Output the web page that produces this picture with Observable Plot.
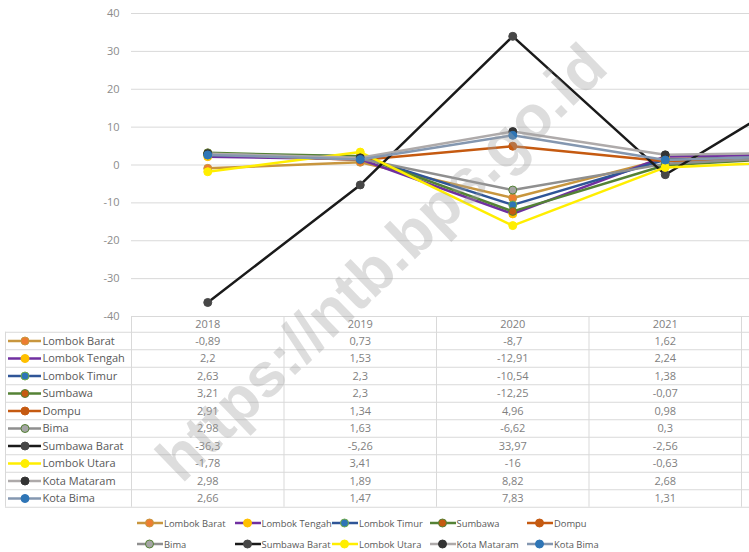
<!DOCTYPE html>
<html>
<head>
<meta charset="utf-8">
<script src="https://cdn.jsdelivr.net/npm/d3@7"></script>
<script src="https://cdn.jsdelivr.net/npm/@observablehq/plot@0.6"></script>
<style>
html, body { margin: 0; padding: 0; background: #fff; }
#wrap { position: relative; width: 749px; height: 552px; overflow: hidden; font-family: "Open Sans", sans-serif; }
#wrap svg.plot { position: absolute; left: 0; overflow: visible; max-width: none !important; }
.leg { position: absolute; height: 14px; display: flex; align-items: center; font-size: 9.4px; color: #595959; white-space: nowrap; }
.leg svg { display: block; margin-right: 1px; }
#wm { position: absolute; left: 381px; top: 262px; transform: translate(-50%, -50%) rotate(-44deg);
      font-family: "Liberation Sans", Arial, sans-serif; font-weight: bold; font-size: 62px;
      color: rgba(160,160,160,0.36); white-space: nowrap; pointer-events: none; }
</style>
</head>
<body>
<div id="wrap"></div>
<script>
// ---- data ----
const years = [2018, 2019, 2020, 2021, 2022];
const tableYears = [2018, 2019, 2020, 2021]; // columns visible in the cropped table
const regions = ["Lombok Barat", "Lombok Tengah", "Lombok Timur", "Sumbawa", "Dompu",
                 "Bima", "Sumbawa Barat", "Lombok Utara", "Kota Mataram", "Kota Bima"];
const lombokBarat  = [-0.89, 0.73, -8.7, 1.62, 2.1];
const lombokTengah = [2.2, 1.53, -12.91, 2.24, 2.9];
const lombokTimur  = [2.63, 2.3, -10.54, 1.38, 2.3];
const sumbawa      = [3.21, 2.3, -12.25, -0.07, 2.2];
const dompu        = [2.91, 1.34, 4.96, 0.98, 1.7];
const bima         = [2.98, 1.63, -6.62, 0.3, 2.4];
const sumbawaBarat = [-36.3, -5.26, 33.97, -2.56, 21.8];
const lombokUtara  = [-1.78, 3.41, -16, -0.63, 1.1];
const kotaMataram  = [2.98, 1.89, 8.82, 2.68, 3.3];
const kotaBima     = [2.66, 1.47, 7.83, 1.31, 2.5];
const yTicks = [-40, -30, -20, -10, 0, 10, 20, 30, 40];

const seriesValues = [lombokBarat, lombokTengah, lombokTimur, sumbawa, dompu,
                      bima, sumbawaBarat, lombokUtara, kotaMataram, kotaBima];

// ---- styles ----
const lineColor = ["#C8963E", "#7030A0", "#2F5597", "#548235", "#C55A11",
                   "#8F8F8F", "#1A1A1A", "#FFEE00", "#AEAAAA", "#8497B0"];
const dotFill   = ["#ED7D31", "#FFC000", "#2E75B6", "#C55A11", "#C55A11",
                   "#A5A5A5", "#474747", "#FFEE00", "#333333", "#2E75B6"];
const dotStroke = ["#C8963E", "#FFC000", "#70AD47", "#548235", "#C55A11",
                   "#548235", "#474747", "#FFEE00", "#333333", "#2E75B6"];

const rows = [];
regions.forEach((r, i) => years.forEach((y, j) => rows.push({region: r, idx: i, year: y, value: seriesValues[i][j]})));
const fmt = v => String(v).replace(".", ",");

// ---- layout ----
const W = 900, X0 = 131, COLW = 152.5;
const XR = X0 + COLW * years.length;
const xOpt = {type: "linear", domain: [years[0] - 0.5, years[years.length - 1] + 0.5], range: [X0, XR], axis: null};
const px2x = p => years[0] - 0.5 + (p - X0) / COLW;
const FONT = "'Open Sans', sans-serif";
const wrap = document.getElementById("wrap");

function place(svg, top, h) {
  svg.classList.add("plot");
  svg.style.top = top + "px";
  svg.style.maxWidth = "none";
  svg.style.width = W + "px";
  svg.style.height = h + "px";
  wrap.appendChild(svg);
}

// ---- chart ----
const chartMarks = [Plot.ruleY(yTicks, {stroke: "#d9d9d9", strokeWidth: 1})];
regions.forEach((r, i) => {
  const data = rows.filter(d => d.idx === i);
  chartMarks.push(Plot.line(data, {x: "year", y: "value", stroke: lineColor[i], strokeWidth: 2.5}));
  chartMarks.push(Plot.dot(data, {x: "year", y: "value", r: 4, fill: dotFill[i], stroke: dotStroke[i], strokeWidth: 1}));
});
const chart = Plot.plot({
  width: W, height: 318, marginTop: 13, marginBottom: 2, marginLeft: X0, marginRight: W - XR,
  x: xOpt,
  y: {domain: [-40, 40], ticks: yTicks, tickFormat: d => String(d), tickSize: 0, tickPadding: 12, label: null},
  style: {fontFamily: FONT, fontSize: "11px", color: "#8c8c8c", background: "transparent", overflow: "visible"},
  marks: chartMarks
});
place(chart, 0, 318);

// ---- data table ----
const n = regions.length, ROWH = 17.5, HEAD = 0.9;
const tH = ROWH * (n + HEAD);
const bounds = years.map(y => y - 0.5).concat([years[years.length - 1] + 0.5]);
const tableRows = rows.filter(d => tableYears.includes(d.year));
const tableMarks = [
  Plot.ruleY(d3.range(0, n + 1), {y: d => d, insetLeft: -(X0 - 5), stroke: "#d9d9d9", strokeWidth: 1}),
  Plot.ruleY([-HEAD], {y: d => d, stroke: "#d9d9d9", strokeWidth: 1}),
  Plot.ruleX(bounds, {x: d => d, y1: -HEAD, y2: n, stroke: "#d9d9d9", strokeWidth: 1}),
  Plot.ruleX([bounds[0]], {x: d => d, dx: -(X0 - 5), y1: 0, y2: n, stroke: "#d9d9d9", strokeWidth: 1}),
  Plot.text(tableYears, {x: d => d, y: -HEAD / 2, text: d => String(d), fill: "#7f7f7f"}),
  Plot.text(tableRows, {x: "year", y: d => d.idx + 0.5, text: d => fmt(d.value), fill: "#7f7f7f"}),
  Plot.text(regions, {x: px2x(42), y: (d, i) => i + 0.5, text: d => d, textAnchor: "start", fill: "#595959"})
];
regions.forEach((r, i) => {
  tableMarks.push(Plot.ruleY([i + 0.5], {y: d => d, x1: px2x(8), x2: px2x(41), stroke: lineColor[i], strokeWidth: 2.5}));
  tableMarks.push(Plot.dot([i + 0.5], {x: px2x(24.5), y: d => d, r: 4, fill: dotFill[i], stroke: dotStroke[i], strokeWidth: 1}));
});
const tHt = Math.ceil(tH) + 2;
const table = Plot.plot({
  width: W, height: tHt, marginTop: 0, marginBottom: tHt - tH, marginLeft: X0, marginRight: W - XR,
  x: xOpt,
  y: {type: "linear", domain: [-HEAD, n], range: [0, tH], axis: null},
  style: {fontFamily: FONT, fontSize: "11px", color: "#7f7f7f", background: "transparent", overflow: "visible"},
  marks: tableMarks
});
place(table, 316, tHt);

// ---- legend ----
regions.forEach((r, i) => {
  const col = i % 5, row = Math.floor(i / 5);
  const item = document.createElement("div");
  item.className = "leg";
  item.style.left = (137 + col * 97.5) + "px";
  item.style.top = (523 + row * 21 - 7) + "px";
  item.innerHTML = `<svg width="26" height="12"><line x1="0" x2="26" y1="6" y2="6" stroke="${lineColor[i]}" stroke-width="2.5"/>` +
    `<circle cx="12.5" cy="6" r="4" fill="${dotFill[i]}" stroke="${dotStroke[i]}" stroke-width="1"/></svg><span>${r}</span>`;
  wrap.appendChild(item);
});

// ---- watermark ----
const wm = document.createElement("div");
wm.id = "wm";
wm.textContent = "https://ntb.bps.go.id";
wrap.appendChild(wm);
</script>
</body>
</html>
